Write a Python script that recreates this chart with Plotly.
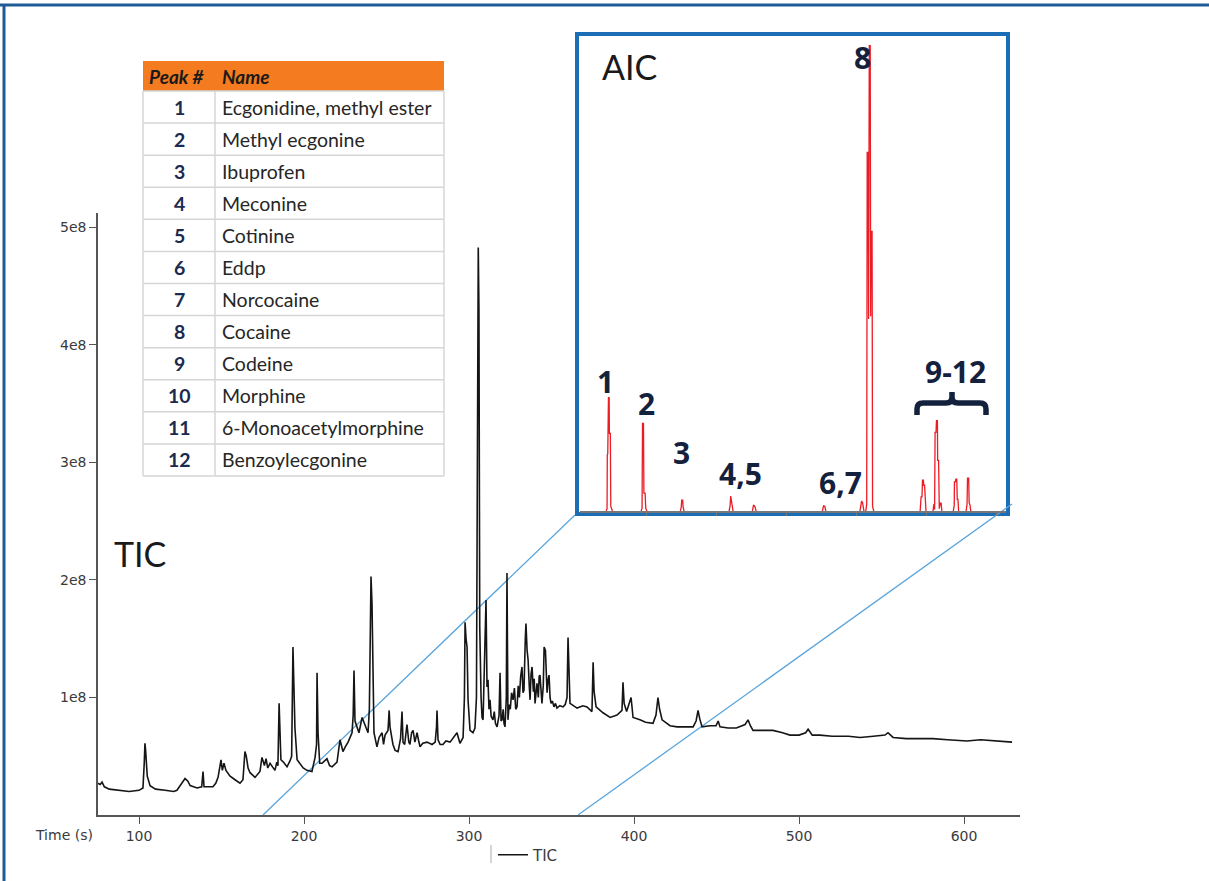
import plotly.graph_objects as go

W, H = 1209, 881

# ---------------- data ----------------
# TIC chromatogram: retention time (s) and intensity (millions of counts)
tic_time = [
    75.2, 76.5, 77.6, 79, 82, 88, 94, 100, 102.4, 103.2,
    103.6, 104.0, 104.4, 105.0, 106.7, 110, 115.8, 121, 123.0, 125,
    127.9, 129.5, 131, 135.2, 138, 138.8, 139.4, 144.8, 146.5, 147.9,
    149.7, 150.5, 151.5, 152.7, 155.2, 158.2, 161.2, 163, 164.2, 165,
    166.1, 167.3, 170.3, 173.3, 174.5, 175.2, 176, 177.0, 178, 179.4,
    182.4, 183.5, 184.2, 184.9, 185.5, 186.0, 187.5, 189.7, 191.5, 192.5,
    193.3, 193.8, 194.5, 195.8, 197.6, 199.5, 201.8, 204.8, 206.7, 207.6,
    207.9, 208.5, 209.5, 210.9, 213.9, 215.5, 217.0, 220.0, 221.8, 223.6,
    225, 226.7, 228.5, 229.1, 229.8, 230.3, 230.9, 232.1, 233.3, 235.2,
    237.0, 238.8, 239.6, 240.0, 240.6, 241.2, 241.8, 242.4, 244.2, 245.5,
    247.3, 248.2, 249.1, 250.9, 251.6, 252.1, 253.9, 255.2, 257.0, 258.5,
    259.4, 260.0, 261.0, 262.4, 263.5, 264.2, 265.2, 266.1, 267.2, 268.5,
    269.5, 270.3, 272, 274.5, 277.6, 279.5, 280.3, 280.6, 281.2, 282.5,
    284.2, 286, 288.5, 290, 292.7, 294.5, 296.4, 297.2, 297.6, 298.2,
    298.8, 299.4, 300.6, 302.4, 303.6, 304.5, 304.8, 305.3, 305.6, 306.0,
    306.5, 307.3, 307.9, 308.5, 309.2, 309.7, 310.3, 310.9, 311.5, 312.1, 312.7, 313.4,
    314.5, 315.3, 316.0, 317.0, 317.6, 318.2, 318.8, 319.4, 320.0, 320.7, 321.2, 321.8, 322.6, 323.0, 323.6, 324.3,
    325, 325.8, 326.7, 327.5, 328.3, 329.1, 329.8, 330.5, 331.3, 332.1, 332.7, 333.3, 334.1, 334.5, 335.2, 335.8,
    336.5, 337.0, 337.6, 338.2, 339, 339.5, 340.0, 340.6, 341.2, 342, 342.5, 343.0, 343.6, 344.2, 345.0,
    345.5, 346.3, 346.8, 347.3, 347.9, 348.5, 349.1, 349.7, 350.5, 351.5, 352.4, 353.3, 355, 357.0, 358.3, 359.4, 360.0,
    360.6, 361.2, 365.5, 369, 371.5, 374.5, 375.2, 375.8, 377.0, 381.2,
    385.5, 389.7, 392.7, 393.3, 394.0, 395.5, 398.2, 398.8, 399.4, 403.6,
    407, 411.5, 413.3, 414.5, 415.5, 417.0, 421.8, 426.1, 431, 435.8,
    437.6, 438.8, 439.8, 441.2, 446.1, 449.7, 451, 452.1, 457.0, 462,
    467.3, 469.1, 470.5, 472.1, 476.4, 484.2, 490, 494.5, 500, 504,
    505.5, 506.7, 508, 512.7, 520, 530, 537.0, 545, 552.1, 553.9,
    557.0, 565, 575, 581.2, 590, 601.8, 610, 620, 629.1,
]
tic_intensity_m = [
    27, 26, 28, 24, 22, 21, 20, 21, 23, 45,
    61, 55, 40, 33, 25, 22, 21, 20, 21, 25,
    31, 29, 25, 23, 24, 37, 24, 24, 27, 32,
    47, 38, 44, 38, 33, 30, 27, 30, 54, 50,
    40, 36, 32, 37, 49, 46, 42, 48, 40, 44,
    38, 45, 42, 95, 60, 47, 45, 41, 46, 50,
    143, 120, 74, 47, 44, 40, 38, 37, 49, 60,
    121, 70, 44, 44, 48, 42, 41, 45, 64, 54,
    58, 62, 68, 70, 85, 123, 80, 75, 70, 83,
    76, 70, 90, 132, 203, 180, 140, 70, 58, 66,
    70, 60, 68, 72, 89, 75, 60, 55, 54, 65,
    88, 62, 60, 77, 62, 60, 70, 72, 62, 70,
    63, 58, 61, 62, 60, 62, 75, 89, 64, 60,
    60, 63, 62, 65, 70, 61, 66, 100, 164, 150,
    143, 98, 72, 70, 74, 100, 194, 430, 483, 431,
    160, 100, 83, 81, 120, 160, 183, 109, 115, 90, 98, 84,
    81, 88, 78, 75, 83, 85, 121, 80, 81, 90, 78, 75, 100, 206, 81, 94,
    90, 104, 98, 108, 90, 92, 110, 100, 118, 126, 104, 106, 150, 163, 140, 132,
    110, 98, 120, 126, 105, 116, 95, 108, 112, 100, 118, 119, 100, 95, 110,
    143, 140, 112, 104, 115, 119, 100, 95, 97, 92, 95, 91, 93, 92, 94, 100, 151,
    110, 95, 91, 93, 92, 88, 130, 105, 92, 87,
    83, 85, 89, 113, 95, 88, 100, 92, 83, 81,
    79, 78, 85, 100, 90, 81, 76, 75, 75, 75,
    80, 89, 82, 75, 76, 76, 80, 75, 74, 74,
    77, 81, 76, 72, 72, 72, 70, 68, 68, 70,
    73, 71, 68, 68, 67, 67, 66, 67, 68, 70,
    66, 65, 65, 65, 64, 63, 64, 63, 62,
]
if len(tic_time) != len(tic_intensity_m):
    raise ValueError(f"TIC lengths differ: {len(tic_time)} vs {len(tic_intensity_m)}")

# AIC (inset): time (s) and relative intensity (%), None separates peaks
aic_time = [
    192.5, 192.9, 193.0, 193.2, 193.5, 193.8, 193.9, 194.3, 194.5, 194.9, 195.2, None,
    207.5, 207.9, 208.1, 208.5, 208.7, 209.2, 209.5, 210.0, None,
    224.3, 224.7, 224.9, 225.3, 225.5, 225.9, None,
    245.2, 245.6, 245.9, 246.2, 246.5, 246.9, None,
    255.2, 255.7, 256.3, 256.8, None,
    285.2, 285.7, 286.2, 286.7, None,
    301.3, 301.8, 302.0, 302.4, 302.7, 303.0, None,
    303.8, 304.2, 304.4, 304.8, 305.0, 305.3, 305.7, 305.9, 306.1, 306.5, 306.7, 307.2, None,
    327.1, 327.5, 327.9, 328.1, 328.5, 328.6, 329.0, 329.3, 329.6, None,
    332.6, 333.0, 333.3, 333.5, 333.9, 334.1, 334.5, 334.6, 335.0, 335.3, 335.7, 336.1, 336.4, None,
    341.3, 341.7, 341.8, 342.2, 342.4, 342.8, 343.0, 343.3, 343.6, None,
    346.8, 347.2, 347.4, 347.9, 348.1, 348.5, 348.8,
]
aic_value = [
    0, 0.5, 12, 12.2, 24.2, 24.2, 16.6, 16.6, 1, 0.6, 0, None,
    0, 0.6, 18.7, 18.7, 3.8, 3.8, 0.5, 0, None,
    0, 0.8, 2.3, 2.3, 0.8, 0, None,
    0, 1.0, 3.2, 2.0, 0.8, 0, None,
    0, 1.3, 0.9, 0, None,
    0, 1.1, 1.0, 0, None,
    0, 1.2, 2.1, 1.8, 0.3, 0, None,
    0, 1.5, 76.6, 76.6, 41, 99.4, 99.4, 41.6, 59.7, 59.7, 1, 0, None,
    0, 3.0, 3.0, 6.6, 6.6, 5.5, 5.5, 0.5, 0, None,
    0, 1.5, 0.3, 16.8, 16.8, 19.3, 19.3, 10.8, 10.8, 0.5, 1.7, 1.7, 0, None,
    0, 1.2, 6.2, 6.2, 6.8, 6.8, 2.5, 2.5, 0, None,
    0, 1.5, 7.0, 7.0, 1.8, 1.2, 0,
]

aic_labels = ["1", "2", "3", "4,5", "6,7", "8", "9-12"]
aic_label_time = [192.4, 209.6, 224.6, 250.1, 292.9, 302.4, 342.3]
aic_label_height = [27.6, 23.0, 12.5, 8.1, 6.0, 96.8, 29.9]

peak_numbers = [1, 2, 3, 4, 5, 6, 7, 8, 9, 10, 11, 12]
peak_names = [
    "Ecgonidine, methyl ester", "Methyl ecgonine", "Ibuprofen", "Meconine",
    "Cotinine", "Eddp", "Norcocaine", "Cocaine", "Codeine", "Morphine",
    "6-Monoacetylmorphine", "Benzoylecgonine",
]
table_headers = ["Peak #", "Name"]

x_tick_vals = [100, 200, 300, 400, 500, 600]
y_tick_vals = [1e8, 2e8, 3e8, 4e8, 5e8]
y_tick_text = ["1e8", "2e8", "3e8", "4e8", "5e8"]
inset_tick_vals = [210, 240, 270, 300, 330, 360]


# ---------------- helpers (pixel -> paper) ----------------
def px(x):
    return x / W


def py(y):
    return 1 - y / H


def path(cmds):
    out = []
    for c in cmds:
        op, pts = c[0], c[1:]
        coords = []
        for i in range(0, len(pts), 2):
            coords.append(f"{px(pts[i]):.5f},{py(pts[i+1]):.5f}")
        out.append(op + " " + " ".join(coords))
    return " ".join(out)


fig = go.Figure()

fig.add_trace(go.Scatter(
    x=tic_time, y=[v * 1e6 for v in tic_intensity_m],
    mode="lines", name="TIC",
    line=dict(color="#151515", width=1.6),
    xaxis="x", yaxis="y", showlegend=True,
))

fig.add_trace(go.Scatter(
    x=aic_time, y=aic_value, mode="lines", name="AIC",
    line=dict(color="#ec1c24", width=1.3),
    connectgaps=False, xaxis="x2", yaxis="y2", showlegend=False,
))

axis_font = dict(family="DejaVu Sans", size=14, color="#3a3a3a")

shapes = [
    # outer frame
    dict(type="line", xref="paper", yref="paper", x0=0, x1=1, y0=py(5), y1=py(5),
         line=dict(color="#1e5c98", width=3)),
    dict(type="line", xref="paper", yref="paper", x0=px(4), x1=px(4), y0=py(5), y1=0,
         line=dict(color="#1e5c98", width=3)),
    # inset frame
    dict(type="rect", xref="paper", yref="paper", x0=px(577), x1=px(1008),
         y0=py(514), y1=py(34), fillcolor="white",
         line=dict(color="#1b6db5", width=4), layer="below"),
    # zoom connectors
    dict(type="line", xref="paper", yref="paper", x0=px(575), y0=py(515),
         x1=px(263), y1=py(815), line=dict(color="#5aa5dc", width=1.3), layer="below"),
    dict(type="line", xref="paper", yref="paper", x0=px(1012), y0=py(504),
         x1=px(578), y1=py(815), line=dict(color="#5aa5dc", width=1.3), layer="below"),
    # legend separator bar
    dict(type="line", xref="paper", yref="paper", x0=px(491), x1=px(491),
         y0=py(845), y1=py(863), line=dict(color="#aaaaaa", width=1)),
    # brace over peaks 9-12
    dict(type="path", xref="paper", yref="paper",
         path=path([
             ("M", 917, 415), ("L", 917, 409), ("Q", 917, 403, 923, 403),
             ("L", 946, 403), ("Q", 952, 403, 952, 397), ("L", 952, 392),
             ("M", 952, 397), ("Q", 952, 403, 958, 403), ("L", 980, 403),
             ("Q", 986, 403, 986, 409), ("L", 986, 415),
         ]),
         line=dict(color="#14213d", width=5.5)),
]

annotations = [
    dict(text="TIC", x=px(140), y=py(553), xref="paper", yref="paper",
         xanchor="center", yanchor="middle", showarrow=False,
         font=dict(family="Lato", size=34, color="#1a1a1a")),
    dict(text="AIC", x=px(629), y=py(66), xref="paper", yref="paper",
         xanchor="center", yanchor="middle", showarrow=False,
         font=dict(family="Lato", size=34, color="#1a1a1a")),
    dict(text="Time (s)", x=px(95), y=py(835), xref="paper", yref="paper",
         xanchor="right", yanchor="middle", showarrow=False, font=axis_font),
]
for lab, t, h in zip(aic_labels, aic_label_time, aic_label_height):
    annotations.append(dict(
        text=f"<b>{lab}</b>", x=t, y=h, xref="x2", yref="y2", showarrow=False,
        xanchor="center", yanchor="middle",
        font=dict(family="Open Sans", size=30, color="#14213d"),
    ))

# ---------------- peak table (drawn with shapes + text) ----------------
tx0, tx1, tx2 = 143, 215, 444
ty_top, ty_head, ty_bot = 61, 91, 476
row_h = (ty_bot - ty_head) / len(peak_numbers)
grid = dict(color="#d6d6d6", width=1.5)

shapes.append(dict(type="rect", xref="paper", yref="paper",
                   x0=px(tx0), x1=px(tx2), y0=py(ty_head), y1=py(ty_top),
                   fillcolor="#f47b20", line=dict(width=0)))
for i in range(len(peak_numbers) + 1):
    yy = ty_head + i * row_h
    shapes.append(dict(type="line", xref="paper", yref="paper",
                       x0=px(tx0), x1=px(tx2), y0=py(yy), y1=py(yy), line=grid))
for xx in (tx0, tx1, tx2):
    shapes.append(dict(type="line", xref="paper", yref="paper",
                       x0=px(xx), x1=px(xx), y0=py(ty_head), y1=py(ty_bot), line=grid))

header_font = dict(family="Lato", size=19, color="#1a1a1a")
annotations.append(dict(text=f"<b><i>{table_headers[0]}</i></b>", x=px(147),
                        y=py((ty_top + ty_head) / 2), xref="paper", yref="paper",
                        xanchor="left", yanchor="middle", showarrow=False,
                        font=header_font))
annotations.append(dict(text=f"<b><i>{table_headers[1]}</i></b>", x=px(220),
                        y=py((ty_top + ty_head) / 2), xref="paper", yref="paper",
                        xanchor="left", yanchor="middle", showarrow=False,
                        font=header_font))
for i, (n, name) in enumerate(zip(peak_numbers, peak_names)):
    yc = ty_head + (i + 0.5) * row_h
    annotations.append(dict(text=f"<b>{n}</b>", x=px((tx0 + tx1) / 2), y=py(yc),
                            xref="paper", yref="paper", xanchor="center",
                            yanchor="middle", showarrow=False,
                            font=dict(family="Lato", size=19.5, color="#1b2a4e")))
    annotations.append(dict(text=name, x=px(220), y=py(yc),
                            xref="paper", yref="paper", xanchor="left",
                            yanchor="middle", showarrow=False,
                            font=dict(family="Lato", size=19.5, color="#262626")))

fig.update_layout(
    width=W, height=H, autosize=False,
    margin=dict(l=0, r=0, t=0, b=0),
    paper_bgcolor="white", plot_bgcolor="rgba(0,0,0,0)",
    showlegend=True,
    legend=dict(orientation="h", x=px(493), y=py(855), xanchor="left",
                yanchor="middle", bgcolor="rgba(0,0,0,0)",
                font=dict(family="DejaVu Sans", size=15, color="#3a3a3a")),
    xaxis=dict(domain=[px(98), px(1020)], range=[75.15, 633.9],
               tickvals=x_tick_vals, ticks="outside", ticklen=7,
               tickcolor="#555", showline=True, linecolor="#555", linewidth=1.5,
               showgrid=False, zeroline=False, tickfont=axis_font, anchor="y"),
    yaxis=dict(domain=[py(815), py(213)], range=[0, 5.123e8],
               tickvals=y_tick_vals, ticktext=y_tick_text, ticks="outside",
               ticklen=7, tickcolor="#555", showline=True, linecolor="#555",
               linewidth=1.5, showgrid=False, zeroline=False,
               tickfont=axis_font, anchor="x"),
    xaxis2=dict(domain=[px(580), px(1006)], range=[181.3, 363.9],
                tickvals=inset_tick_vals, ticks="outside", ticklen=3,
                tickcolor="#777", showticklabels=False, showline=True,
                linecolor="#777", linewidth=1.5, showgrid=False,
                zeroline=False, anchor="y2"),
    yaxis2=dict(domain=[py(511), py(40)], range=[0, 100.6], visible=False,
                anchor="x2"),
    shapes=shapes,
    annotations=annotations,
)

fig.write_html("out.html", config={"displayModeBar": False},
               post_script="document.body.style.margin='0';")
